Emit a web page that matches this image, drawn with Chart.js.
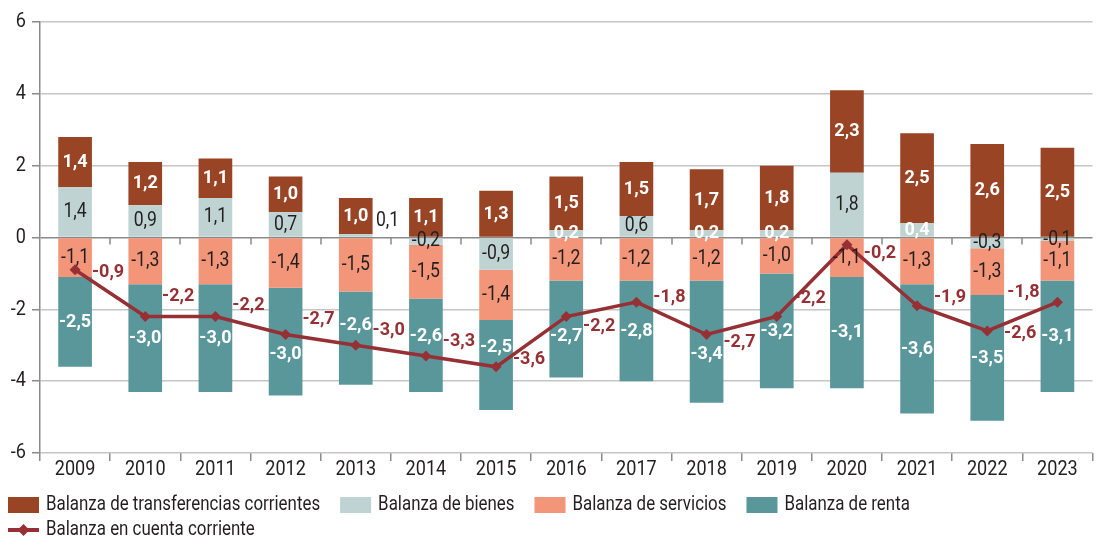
<!DOCTYPE html>
<html><head><meta charset="utf-8">
<script src="https://cdn.jsdelivr.net/npm/chart.js@4.4.1/dist/chart.umd.min.js"></script>
<style>
body{margin:0;background:#fff;width:1098px;height:540px;overflow:hidden;}
</style></head>
<body>
<canvas id="c" width="1098" height="540"></canvas>
<script>
const years = ['2009','2010','2011','2012','2013','2014','2015','2016','2017','2018','2019','2020','2021','2022','2023'];
const transferencias = [1.4,1.2,1.1,1.0,1.0,1.1,1.3,1.5,1.5,1.7,1.8,2.3,2.5,2.6,2.5];
const bienes = [1.4,0.9,1.1,0.7,0.1,-0.2,-0.9,0.2,0.6,0.2,0.2,1.8,0.4,-0.3,-0.1];
const servicios = [-1.1,-1.3,-1.3,-1.4,-1.5,-1.5,-1.4,-1.2,-1.2,-1.2,-1.0,-1.1,-1.3,-1.3,-1.1];
const renta = [-2.5,-3.0,-3.0,-3.0,-2.6,-2.6,-2.5,-2.7,-2.8,-3.4,-3.2,-3.1,-3.6,-3.5,-3.1];
const cuentaCorriente = [-0.9,-2.2,-2.2,-2.7,-3.0,-3.3,-3.6,-2.2,-1.8,-2.7,-2.2,-0.2,-1.9,-2.6,-1.8];
const yTicks = [-6,-4,-2,0,2,4,6];

const FONT = "Roboto, 'DejaVu Sans', sans-serif";
const TXT = '#231f20';
const C_TR = '#994425', C_BI = '#bfd3d2', C_SE = '#f39578', C_RE = '#5a979b', C_LN = '#973035';
const fmt = v => v.toFixed(1).replace('.', ',');

function drawText(ctx, s, x, y, font, color, align, sx) {
  ctx.save();
  ctx.font = font; ctx.fillStyle = color;
  ctx.textBaseline = 'middle'; ctx.textAlign = align;
  ctx.translate(x, y); ctx.scale(sx, 1);
  ctx.fillText(s, 0, 0);
  ctx.restore();
}

const labelPlugin = {
  id: 'vals',
  afterDatasetsDraw(chart) {
    const ctx = chart.ctx;
    const lineIdx = chart.data.datasets.findIndex(d => d.kind === 'line');
    const linePts = chart.getDatasetMeta(lineIdx).data;
    chart.data.datasets.forEach((ds, di) => {
      const meta = chart.getDatasetMeta(di);
      meta.data.forEach((el, i) => {
        const v = ds.data[i];
        const t = fmt(v);
        if (ds.kind === 'line') {
          const last = i === ds.data.length - 1;
          let lx, ly;
          if (last) {
            lx = el.x - 34; ly = el.y - 10;
          } else {
            const nx = linePts[i + 1].x, ny = linePts[i + 1].y;
            lx = el.x + 33;
            const yAt = el.y + (ny - el.y) * 33 / (nx - el.x);
            ly = (ny >= el.y - 0.5) ? yAt - 20 : yAt + 16;
          }
          drawText(ctx, t, lx, ly, 'bold 19px ' + FONT, C_LN, 'center', 0.95);
          return;
        }
        let cy = (el.y + el.base) / 2;
        if (ds.kind === 'tr') {
          drawText(ctx, t, el.x, cy, 'bold 19px ' + FONT, '#fff', 'center', 0.95);
        } else if (ds.kind === 'bi') {
          if (v > 0 && v < 0.15) {
            drawText(ctx, t, el.x + el.width / 2 + 15, el.y - 13, '20px ' + FONT, TXT, 'center', 0.88);
          } else if (v > 0 && v < 0.5) {
            drawText(ctx, t, el.x, cy, 'bold 19px ' + FONT, '#fff', 'center', 0.95);
          } else {
            drawText(ctx, t, el.x, cy, '20px ' + FONT, TXT, 'center', 0.88);
          }
        } else if (ds.kind === 'se') {
          drawText(ctx, t, el.x, cy, '20px ' + FONT, TXT, 'center', 0.88);
        } else if (ds.kind === 're') {
          // keep the label clear of the line marker
          const py = linePts[i].y;
          if (Math.abs(cy - py) < 14) cy = (cy - py > 3) ? py + 20 : py - 20;
          drawText(ctx, t, el.x, cy, 'bold 19px ' + FONT, '#fff', 'center', 0.95);
        }
      });
    });
  }
};

const axisPlugin = {
  id: 'axisText',
  afterDraw(chart) {
    const ctx = chart.ctx, xs = chart.scales.x, ys = chart.scales.y, ca = chart.chartArea;
    const y0 = ys.getPixelForValue(0);
    const n = years.length;
    const step = (ca.right - ca.left) / n;
    ctx.save();
    ctx.strokeStyle = '#8a8a8a';
    ctx.lineWidth = 1.5;
    ctx.beginPath();
    for (let i = 1; i < n; i++) {
      const px = Math.round(ca.left + i * step);
      ctx.moveTo(px, y0); ctx.lineTo(px, y0 + 7);
    }
    ctx.stroke();
    ctx.restore();
    yTicks.forEach(v => {
      drawText(ctx, String(v), 26, ys.getPixelForValue(v), '21px ' + FONT, TXT, 'right', 0.86);
    });
    years.forEach((yr, i) => {
      drawText(ctx, yr, xs.getPixelForValue(i), 470, '21px ' + FONT, TXT, 'center', 0.86);
    });
    const rows = [
      [{ t: 'Balanza de transferencias corrientes', c: C_TR }, { t: 'Balanza de bienes', c: C_BI }, { t: 'Balanza de servicios', c: C_SE }, { t: 'Balanza de renta', c: C_RE }],
      [{ t: 'Balanza en cuenta corriente', line: true }]
    ];
    const LSX = 0.845, LFONT = '20px ' + FONT;
    rows.forEach((row, ri) => {
      let x = 8;
      const cy = 505 + ri * 25;
      row.forEach(it => {
        if (it.line) {
          ctx.save();
          ctx.fillStyle = C_LN;
          ctx.fillRect(x, cy - 2, 31, 4);
          ctx.beginPath();
          ctx.moveTo(x + 15.5, cy - 6); ctx.lineTo(x + 21.5, cy); ctx.lineTo(x + 15.5, cy + 6); ctx.lineTo(x + 9.5, cy);
          ctx.closePath(); ctx.fill();
          ctx.restore();
        } else {
          ctx.fillStyle = it.c;
          ctx.fillRect(x, cy - 8, 31, 16);
        }
        x += 38;
        drawText(ctx, it.t, x, cy, LFONT, TXT, 'left', LSX);
        ctx.save(); ctx.font = LFONT;
        x += ctx.measureText(it.t).width * LSX + 20;
        ctx.restore();
      });
    });
  }
};

const barCommon = { barPercentage: 0.96, categoryPercentage: 0.5, borderWidth: 0, stack: 's', order: 1 };

new Chart(document.getElementById('c'), {
  type: 'bar',
  data: {
    labels: years,
    datasets: [
      Object.assign({ label: 'Balanza de bienes', kind: 'bi', data: bienes, backgroundColor: C_BI }, barCommon),
      Object.assign({ label: 'Balanza de transferencias corrientes', kind: 'tr', data: transferencias, backgroundColor: C_TR }, barCommon),
      Object.assign({ label: 'Balanza de servicios', kind: 'se', data: servicios, backgroundColor: C_SE }, barCommon),
      Object.assign({ label: 'Balanza de renta', kind: 're', data: renta, backgroundColor: C_RE }, barCommon),
      { type: 'line', label: 'Balanza en cuenta corriente', kind: 'line', data: cuentaCorriente, stack: 'l', order: 0,
        borderColor: C_LN, backgroundColor: C_LN, borderWidth: 3.5, pointStyle: 'rectRot', pointRadius: 5.5,
        pointBorderWidth: 0, tension: 0 }
    ]
  },
  options: {
    responsive: false,
    animation: false,
    layout: { padding: { top: 22, right: 0, left: 0, bottom: 55 } },
    plugins: { legend: { display: false }, tooltip: { enabled: false } },
    scales: {
      x: {
        stacked: true,
        offset: true,
        grid: { display: true, drawOnChartArea: false, drawTicks: true, tickLength: 8, color: '#8a8a8a', lineWidth: 1.5, offset: true },
        border: { display: false },
        ticks: { display: false },
        afterFit: s => { s.height = 32; }
      },
      y: {
        stacked: true,
        min: -6, max: 6,
        afterBuildTicks: s => { s.ticks = yTicks.map(v => ({ value: v })); },
        grid: {
          color: c => (c.tick && c.tick.value === 0) ? '#8a8a8a' : '#c6c6c6',
          lineWidth: 1.5, drawTicks: true, tickLength: 8,
          tickColor: '#8a8a8a'
        },
        border: { display: true, color: '#8a8a8a', width: 1.5 },
        ticks: { display: false },
        afterFit: s => { s.width = 40; }
      }
    }
  },
  plugins: [labelPlugin, axisPlugin]
});
</script>
</body></html>
